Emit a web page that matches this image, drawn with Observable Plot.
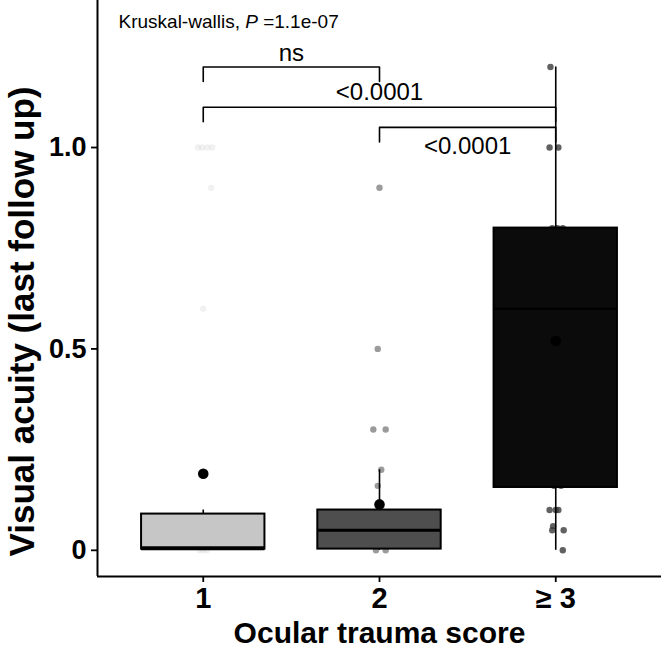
<!DOCTYPE html>
<html><head><meta charset="utf-8">
<script src="https://cdn.jsdelivr.net/npm/d3@7"></script>
<script src="https://cdn.jsdelivr.net/npm/@observablehq/plot@0.6"></script>
<style>body{margin:0;background:#fff} #chart svg{display:block}</style>
</head><body><div id="chart"></div>
<script>
// ---- data ----
const categories = ["1", "2", "≥ 3"];
const q1 = [0.003, 0.003, 0.156];
const median = [0.005, 0.05, 0.6];
const q3 = [0.09, 0.1, 0.8];
const whiskerLow = [0, 0, 0];
const whiskerHigh = [0.1, 0.2, 1.2];
const means = [0.19, 0.114, 0.52];

const pointGroup = [1,1,1,1,1,1,1,1,1, 2,2,2,2,2,2,2,2, 3,3,3,3,3,3,3,3,3,3,3,3,3,3,3];
const pointValue = [1,1,1,1,0.9,0.6,0,0,0,
                    0.9,0.5,0.3,0.3,0.2,0.16,0,0,
                    1.2,1,1,0.8,0.8,0.8,0.16,0.16,0.1,0.1,0.1,0.06,0.05,0.05,0];
const pointJitter = [-0.03,-0.006,0.023,0.051,0.045,0,-0.02,0,0.02,
                     0,-0.01,-0.035,0.035,0.01,-0.01,-0.02,0.035,
                     -0.03,-0.035,0.015,-0.02,0.01,0.04,-0.01,0.03,-0.035,0,0.015,-0.015,-0.02,0.045,0.04];

const bracketFrom = [1, 1, 2];
const bracketTo = [2, 3, 3];
const bracketY = [1.2, 1.1, 1.05];
const bracketLabel = ["ns", "<0.0001", "<0.0001"];
const bracketLabelY = [1.216, 1.117, 0.983];

const kruskalText = "Kruskal-wallis, P =1.1e-07";
const yTicks = [0, 0.5, 1.0];
const xLabel = "Ocular trauma score";
const yLabel = "Visual acuity (last follow up)";

// ---- styles ----
const boxFill = ["#c6c6c6", "#4e4e4e", "#0b0b0b"];
const pointFill = ["#bdbdbd", "#7a7a7a", "#3a3a3a"];
const pointOpacity = [0.22, 0.75, 0.8];
const medianWidth = [4, 3, 2];
const boxHalf = 0.35;
const tipLen = 0.036;

const groups = categories.map((c, i) => i);
const points = pointValue.map((v, i) => ({g: pointGroup[i], v, j: pointJitter[i]}));
const bracketPath = [];
bracketFrom.forEach((f, i) => {
  const t = bracketTo[i], y = bracketY[i];
  bracketPath.push({i, x: f, y: y - tipLen}, {i, x: f, y}, {i, x: t, y}, {i, x: t, y: y - tipLen});
});

const font = "'Liberation Sans', Arial, Helvetica, sans-serif";

const chart = Plot.plot({
  width: 663,
  height: 649,
  marginLeft: 97,
  marginRight: 2,
  marginTop: 0,
  marginBottom: 73,
  style: {fontFamily: font, background: "#fff", color: "#000"},
  x: {domain: [0.4, 3.6]},
  y: {domain: [-0.065, 1.365]},
  marks: [
    // jittered observations (under the boxes)
    Plot.dot(points, {
      x: d => d.g + d.j, y: "v", r: 3.2,
      fill: d => pointFill[d.g - 1], fillOpacity: d => pointOpacity[d.g - 1], stroke: "none"
    }),
    // whiskers
    Plot.ruleX(groups, {x: i => i + 1, y1: i => q3[i], y2: i => whiskerHigh[i], stroke: "#000", strokeWidth: 1.6}),
    Plot.ruleX(groups, {x: i => i + 1, y1: i => whiskerLow[i], y2: i => q1[i], stroke: "#000", strokeWidth: 1.6}),
    // boxes
    Plot.rect(groups, {
      x1: i => i + 1 - boxHalf, x2: i => i + 1 + boxHalf,
      y1: i => q1[i], y2: i => q3[i],
      fill: i => boxFill[i], stroke: "#000", strokeWidth: 2
    }),
    // medians
    Plot.ruleY(groups, {
      x1: i => i + 1 - boxHalf, x2: i => i + 1 + boxHalf, y: i => median[i],
      stroke: "#000", strokeWidth: i => medianWidth[i]
    }),
    // means
    Plot.dot(groups, {x: i => i + 1, y: i => means[i], r: 5.3, fill: "#000", stroke: "none"}),
    // brackets
    Plot.line(bracketPath, {x: "x", y: "y", z: "i", stroke: "#000", strokeWidth: 1.6}),
    Plot.text(bracketLabel.map((t, i) => i), {
      x: i => (bracketFrom[i] + bracketTo[i]) / 2, y: i => bracketLabelY[i],
      text: i => bracketLabel[i], lineAnchor: "bottom", fontSize: 24, fill: "#000"
    }),
    // Kruskal-Wallis label
    Plot.text([kruskalText], {
      frameAnchor: "top-left", dx: 21, dy: 27, lineAnchor: "bottom", textAnchor: "start",
      fontSize: 19, fill: "#000"
    }),
    // axes
    Plot.ruleX([0.4], {stroke: "#000", strokeWidth: 2}),
    Plot.ruleY([-0.065], {stroke: "#000", strokeWidth: 2}),
    Plot.axisY(yTicks, {
      tickFormat: d => d === 0 ? "0" : d.toFixed(1), tickSize: 6, tickPadding: 5,
      fontSize: 27, fontWeight: "bold", label: null, strokeWidth: 1.8
    }),
    Plot.axisX([1, 2, 3], {
      tickFormat: d => categories[d - 1], tickSize: 6, tickPadding: 5,
      fontSize: 29, fontWeight: "bold", label: null, strokeWidth: 1.8
    }),
    Plot.text([yLabel], {
      frameAnchor: "left", rotate: -90, dx: -75, dy: 33, textAnchor: "middle",
      fontSize: 35, fontWeight: "bold", fill: "#000"
    }),
    Plot.text([xLabel], {
      frameAnchor: "bottom", dy: 66, lineAnchor: "bottom",
      fontSize: 30, fontWeight: "bold", fill: "#000"
    })
  ]
});

document.getElementById("chart").appendChild(chart);

// italic P in the Kruskal-Wallis label
chart.querySelectorAll("text").forEach(el => {
  if (el.textContent === kruskalText) {
    const ns = "http://www.w3.org/2000/svg";
    const [a, b] = kruskalText.split("P");
    el.textContent = "";
    el.appendChild(document.createTextNode(a));
    const ts = document.createElementNS(ns, "tspan");
    ts.setAttribute("font-style", "italic");
    ts.textContent = "P";
    el.appendChild(ts);
    el.appendChild(document.createTextNode(b));
  }
});
</script>
</body></html>
